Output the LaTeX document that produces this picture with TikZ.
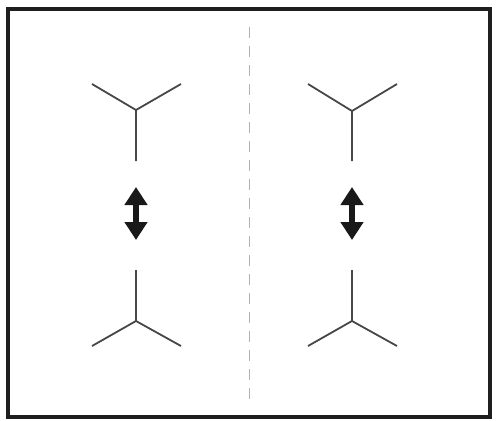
\documentclass[tikz,border=0pt]{standalone}
\usetikzlibrary{arrows.meta}
\begin{document}
\begin{tikzpicture}[x=1pt,y=-1pt,
  frame/.style={draw=black!88,line width=4pt},
  bond/.style={draw=black!72,line width=1.8pt},
  divider/.style={draw=black!30,line width=1pt,dash pattern=on 11pt off 8pt},
  swap/.style={draw=black!90,line width=6.5pt,{Triangle[length=18pt,width=22pt]}-{Triangle[length=18pt,width=22pt]}}]
\useasboundingbox (0,0) rectangle (499,421);
\draw[frame] (8,9) rectangle (490,417);
% left panel
\coordinate (lc1) at (136,110);
\coordinate (la1) at (92,84);
\coordinate (lb1) at (181,84);
\coordinate (ls1) at (136,161);
\draw[bond] (la1) -- (lc1) -- (lb1) (lc1) -- (ls1);
\coordinate (lc2) at (136,321);
\coordinate (la2) at (92,346);
\coordinate (lb2) at (181,346);
\coordinate (ls2) at (136,270);
\draw[bond] (la2) -- (lc2) -- (lb2) (lc2) -- (ls2);
\coordinate (lt) at (136,187);
\coordinate (lbt) at (136,240);
\draw[swap] (lt) -- (lbt);
% divider
\coordinate (dt) at (249.5,27);
\coordinate (db) at (249.5,402);
\draw[divider] (dt) -- (db);
% right panel
\coordinate (rc1) at (352,111);
\coordinate (ra1) at (308,84);
\coordinate (rb1) at (397,84);
\coordinate (rs1) at (352,161);
\draw[bond] (ra1) -- (rc1) -- (rb1) (rc1) -- (rs1);
\coordinate (rc2) at (352,321);
\coordinate (ra2) at (308,346);
\coordinate (rb2) at (397,346);
\coordinate (rs2) at (352,270);
\draw[bond] (ra2) -- (rc2) -- (rb2) (rc2) -- (rs2);
\coordinate (rt) at (352,187);
\coordinate (rbt) at (352,240);
\draw[swap] (rt) -- (rbt);
\end{tikzpicture}
\end{document}
